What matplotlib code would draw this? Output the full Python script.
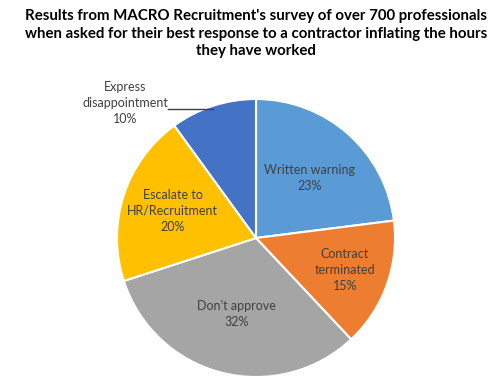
import numpy as np
import matplotlib
matplotlib.use("Agg")
import matplotlib.pyplot as plt

plt.rcParams['font.family'] = ['Lato', 'DejaVu Sans']

# data
labels = ["Written warning", "Contract\nterminated", "Don\u2019t approve",
          "Escalate to\nHR/Recruitment", "Express\ndisappointment"]
shares = [23, 15, 32, 20, 10]
colors = ["#5B9BD5", "#ED7D31", "#A5A5A5", "#FFC000", "#4472C4"]
label_r = [0.58, 0.68, 0.56, 0.63, None]

title = ("Results from MACRO Recruitment's survey of over 700 professionals\n"
         "when asked for their best response to a contractor inflating the hours\n"
         "they have worked")

W, H = 495, 389
fig = plt.figure(figsize=(W / 100, H / 100), dpi=100)
cx, cy, R = 256, 238, 139
ax = fig.add_axes([(cx - R) / W, (H - cy - R) / H, 2 * R / W, 2 * R / H])

wedges, _ = ax.pie(shares, colors=colors, startangle=90, counterclock=False,
                   wedgeprops=dict(edgecolor="white", linewidth=1.5))
ax.set_xlim(-1, 1)
ax.set_ylim(-1, 1)

txt_color = "#404040"
for w, lab, s, r in zip(wedges, labels, shares, label_r):
    mid = np.deg2rad((w.theta1 + w.theta2) / 2)
    text = f"{lab}\n{s}%"
    if r is not None:
        ax.text(r * np.cos(mid), r * np.sin(mid), text, ha="center", va="center",
                fontsize=9, color=txt_color, linespacing=1.4)
    else:
        ex, ey = np.cos(mid), np.sin(mid)
        ax.plot([ex, -0.63], [ey - 0.02, ey - 0.02], color=txt_color, lw=1, clip_on=False)
        ax.text(-0.94, 0.97, text, ha="center", va="center",
                fontsize=9, color=txt_color, linespacing=1.4)

fig.text(256 / W, 1 - 9 / H, title, ha="center", va="top", fontsize=10.8,
         fontweight="bold", color="black", linespacing=1.32)

fig.savefig("out.png", dpi=100)
